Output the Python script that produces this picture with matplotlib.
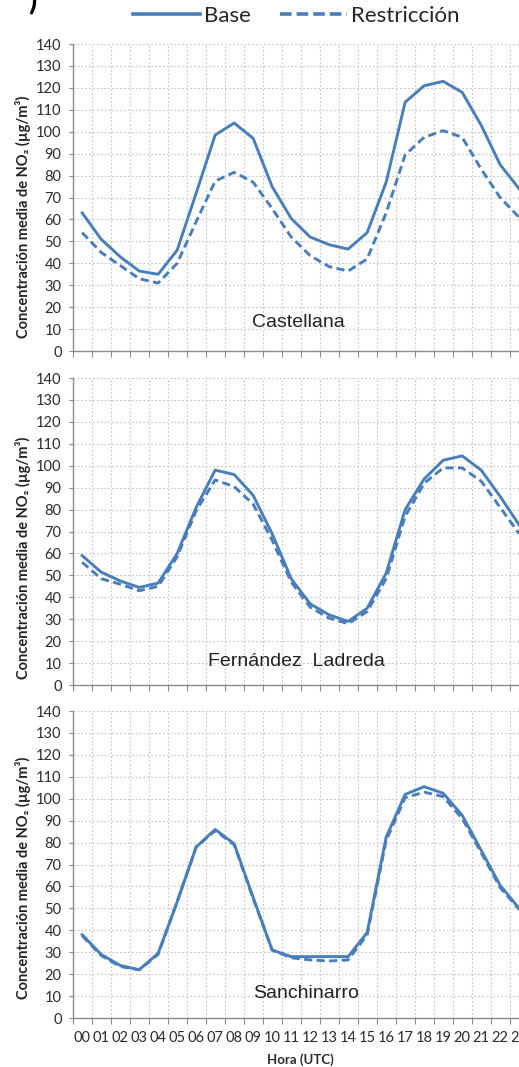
import matplotlib.pyplot as plt
from matplotlib.lines import Line2D
import numpy as np

horas = ['%02d' % h for h in range(24)]

cast_base = [63, 51, 43, 36.5, 35, 46, 72, 98.5, 104, 97, 75, 60.5, 52, 48.5, 46.5, 54, 77, 113.5, 121, 123, 118, 103, 85, 74]
cast_restr = [54, 45, 39, 33, 31, 40, 59, 77.5, 81.5, 77, 65, 52, 43.5, 38.5, 36.5, 42, 63, 89.5, 97.5, 100.5, 97.5, 83, 70, 61]

fern_base = [59, 51.5, 47.5, 44.5, 46.5, 60, 81, 98, 96, 86.5, 69, 48.5, 37, 32, 29, 35, 51, 80, 94, 102.5, 104.5, 98, 86, 73]
fern_restr = [56, 48.5, 46, 43, 45, 58.5, 79.5, 93.5, 90.5, 82.5, 66, 47, 35.5, 30.5, 28, 33.5, 48.5, 77, 92, 99, 99, 93, 81, 69]

san_base = [38, 29, 24, 22, 29.5, 53, 78, 86, 79.5, 55, 31, 28, 28, 28, 28, 39, 82.5, 102, 105.5, 102.5, 92.5, 76.5, 60.5, 50]
san_restr = [37.5, 28.5, 23.5, 22, 29, 53, 78, 85.5, 79, 54.5, 31, 27.5, 26.5, 26, 26.5, 38, 81, 100.5, 103, 101, 91, 75.5, 59.5, 49.5]

estaciones = ['Castellana', 'Fernández  Ladreda', 'Sanchinarro']
base = [cast_base, fern_base, san_base]
restr = [cast_restr, fern_restr, san_restr]

plt.rcParams['font.family'] = ['Lato', 'DejaVu Sans']

azul = '#4a7ebb'
gris = '#8c8c8c'
texto = '#2b2b2b'

fig = plt.figure(figsize=(5.19, 10.67), dpi=100)

# axes positions in figure fraction (the right side runs past the image edge)
bottoms = [0.671, 0.358, 0.0459]
label_y = [0.797, 0.477, 0.177]
name_pos = [(11.4, 12.8), (11.3, 10.6), (11.8, 11.4)]

x = np.arange(24)
for i in range(3):
    ax = fig.add_axes([0.140, bottoms[i], 0.8786, 0.2877])
    ax.plot(x, base[i], color=azul, lw=2.1)
    ax.plot(x, restr[i], color=azul, lw=2.1, dashes=(2.8, 1.5))
    ax.set_xlim(-0.5, 23.5)
    ax.set_ylim(0, 140)
    ax.set_yticks(np.arange(0, 141, 10))
    ax.set_xticks(np.arange(-0.5, 24, 1))
    ax.set_xticklabels([])
    ax.set_xticks(x, minor=True)
    ax.tick_params(axis='x', which='major', direction='out', length=4, color=gris)
    ax.tick_params(axis='x', which='minor', length=0, pad=9, labelsize=10.5, labelcolor=texto)
    ax.tick_params(axis='y', direction='out', length=3, color=gris, pad=5,
                   labelsize=10.5, labelcolor=texto)
    if i == 2:
        ax.set_xticklabels(horas, minor=True)
        ax.set_xlabel('Hora (UTC)', fontsize=9.5, fontweight='bold', color=texto, labelpad=6.5)
    ax.grid(True, which='major', color='#c4c4c4', lw=0.8, linestyle=(0, (1.5, 2)))
    for s in ['top', 'right']:
        ax.spines[s].set_visible(False)
    for s in ['left', 'bottom']:
        ax.spines[s].set_color(gris)
        ax.spines[s].set_linewidth(1)
    ax.text(name_pos[i][0], name_pos[i][1], estaciones[i], ha='center', va='center',
            fontsize=14, family='Liberation Sans', color='#222222')
    fig.text(0.045, label_y[i], 'Concentración media de NO₂ (µg/m³)', rotation=90,
             ha='center', va='center', fontsize=10.5, fontweight='bold', color='#222222')

handles = [Line2D([], [], color=azul, lw=2.6),
           Line2D([], [], color=azul, lw=2.6, dashes=(3.2, 1.4))]
fig.legend(handles=handles, labels=['Base', 'Restricción'], loc='center',
           bbox_to_anchor=(0.571, 0.985), ncol=2, frameon=False, fontsize=16,
           handlelength=3, handletextpad=0.2, columnspacing=1.3, borderpad=0,
           labelcolor='#262626')

fig.text(0.062, 1.0, ')', fontsize=22, fontweight='bold', ha='center', va='center')

fig.savefig('out.png', dpi=100)
